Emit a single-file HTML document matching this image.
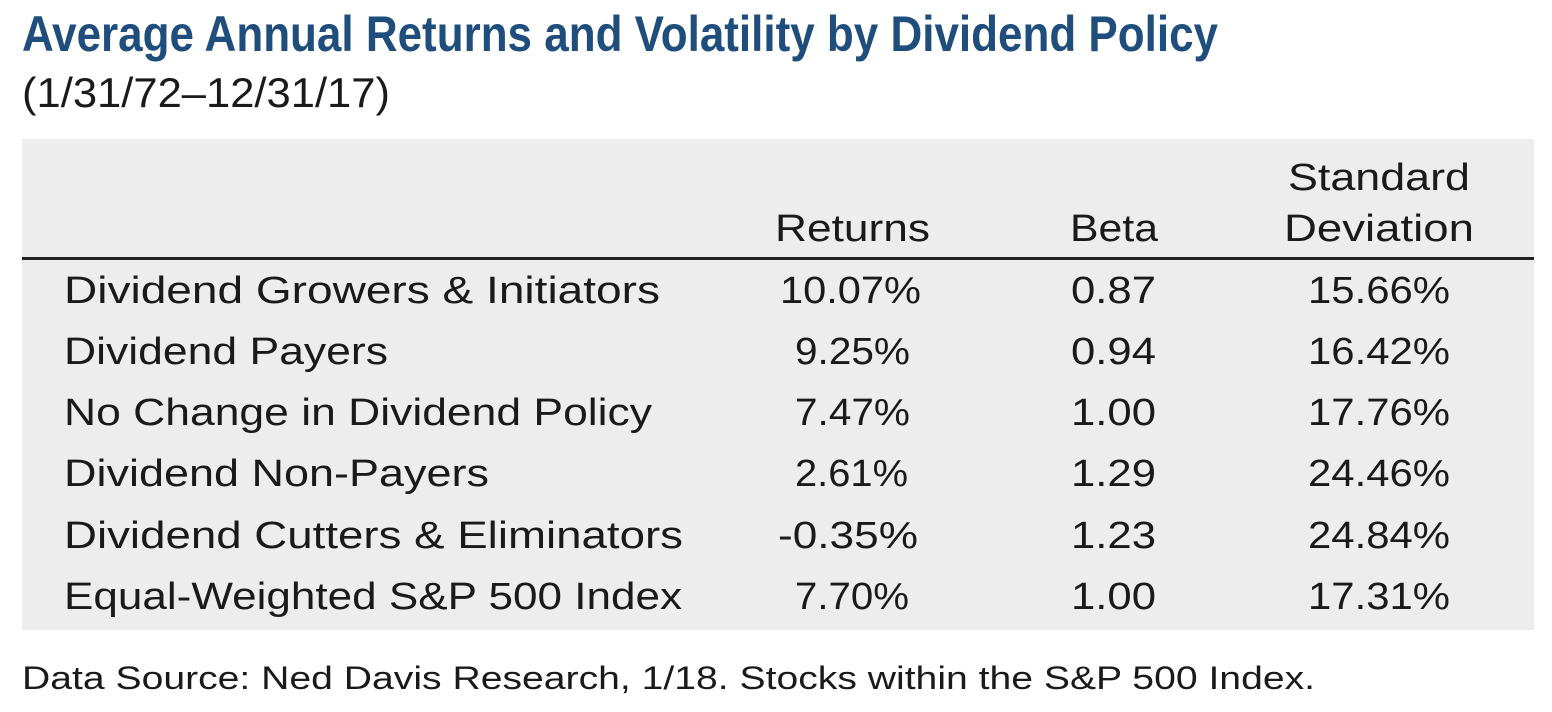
<!DOCTYPE html>
<html><head><meta charset="utf-8"><style>
html,body{margin:0;padding:0;background:#fff;width:1552px;height:712px;overflow:hidden}
svg{display:block}
text{font-family:"Liberation Sans",sans-serif;fill:#1a1a1a}
</style></head><body>
<svg width="1552" height="712" viewBox="0 0 1552 712" xmlns="http://www.w3.org/2000/svg">
<text x="22" y="51" font-size="50" font-weight="bold" style="fill:#1f4e7c" textLength="1196" lengthAdjust="spacingAndGlyphs">Average Annual Returns and Volatility by Dividend Policy</text>
<text x="22" y="107" font-size="42" textLength="368" lengthAdjust="spacingAndGlyphs">(1/31/72–12/31/17)</text>
<rect x="22" y="139" width="1512" height="491" fill="#ededed"/>
<rect x="22" y="257" width="1512" height="3" fill="#222"/>
<g font-size="38">
<text x="775" y="241" textLength="155" lengthAdjust="spacingAndGlyphs">Returns</text>
<text x="1070" y="241" textLength="88" lengthAdjust="spacingAndGlyphs">Beta</text>
<text x="1288" y="190" textLength="182" lengthAdjust="spacingAndGlyphs">Standard</text>
<text x="1284" y="241" textLength="190" lengthAdjust="spacingAndGlyphs">Deviation</text>

<text x="64" y="303" textLength="596" lengthAdjust="spacingAndGlyphs">Dividend Growers &amp; Initiators</text>
<text x="64" y="364" textLength="324" lengthAdjust="spacingAndGlyphs">Dividend Payers</text>
<text x="64" y="425" textLength="588" lengthAdjust="spacingAndGlyphs">No Change in Dividend Policy</text>
<text x="64" y="486" textLength="425" lengthAdjust="spacingAndGlyphs">Dividend Non-Payers</text>
<text x="64" y="548" textLength="619" lengthAdjust="spacingAndGlyphs">Dividend Cutters &amp; Eliminators</text>
<text x="64" y="609" textLength="618" lengthAdjust="spacingAndGlyphs">Equal-Weighted S&amp;P 500 Index</text>

<text x="780" y="303" textLength="141" lengthAdjust="spacingAndGlyphs">10.07%</text>
<text x="795" y="364" textLength="115" lengthAdjust="spacingAndGlyphs">9.25%</text>
<text x="795" y="425" textLength="115" lengthAdjust="spacingAndGlyphs">7.47%</text>
<text x="795" y="486" textLength="113" lengthAdjust="spacingAndGlyphs">2.61%</text>
<text x="778" y="548" textLength="140" lengthAdjust="spacingAndGlyphs">-0.35%</text>
<text x="795" y="609" textLength="114" lengthAdjust="spacingAndGlyphs">7.70%</text>

<text x="1071" y="303" textLength="85" lengthAdjust="spacingAndGlyphs">0.87</text>
<text x="1071" y="364" textLength="85" lengthAdjust="spacingAndGlyphs">0.94</text>
<text x="1071" y="425" textLength="85" lengthAdjust="spacingAndGlyphs">1.00</text>
<text x="1071" y="486" textLength="85" lengthAdjust="spacingAndGlyphs">1.29</text>
<text x="1071" y="548" textLength="85" lengthAdjust="spacingAndGlyphs">1.23</text>
<text x="1071" y="609" textLength="85" lengthAdjust="spacingAndGlyphs">1.00</text>

<text x="1308" y="303" textLength="142" lengthAdjust="spacingAndGlyphs">15.66%</text>
<text x="1308" y="364" textLength="142" lengthAdjust="spacingAndGlyphs">16.42%</text>
<text x="1308" y="425" textLength="142" lengthAdjust="spacingAndGlyphs">17.76%</text>
<text x="1308" y="486" textLength="142" lengthAdjust="spacingAndGlyphs">24.46%</text>
<text x="1308" y="548" textLength="142" lengthAdjust="spacingAndGlyphs">24.84%</text>
<text x="1308" y="609" textLength="142" lengthAdjust="spacingAndGlyphs">17.31%</text>
</g>
<text x="22" y="689" font-size="32" textLength="1293" lengthAdjust="spacingAndGlyphs">Data Source: Ned Davis Research, 1/18.  Stocks within the S&amp;P 500 Index.</text>
</svg>
</body></html>
